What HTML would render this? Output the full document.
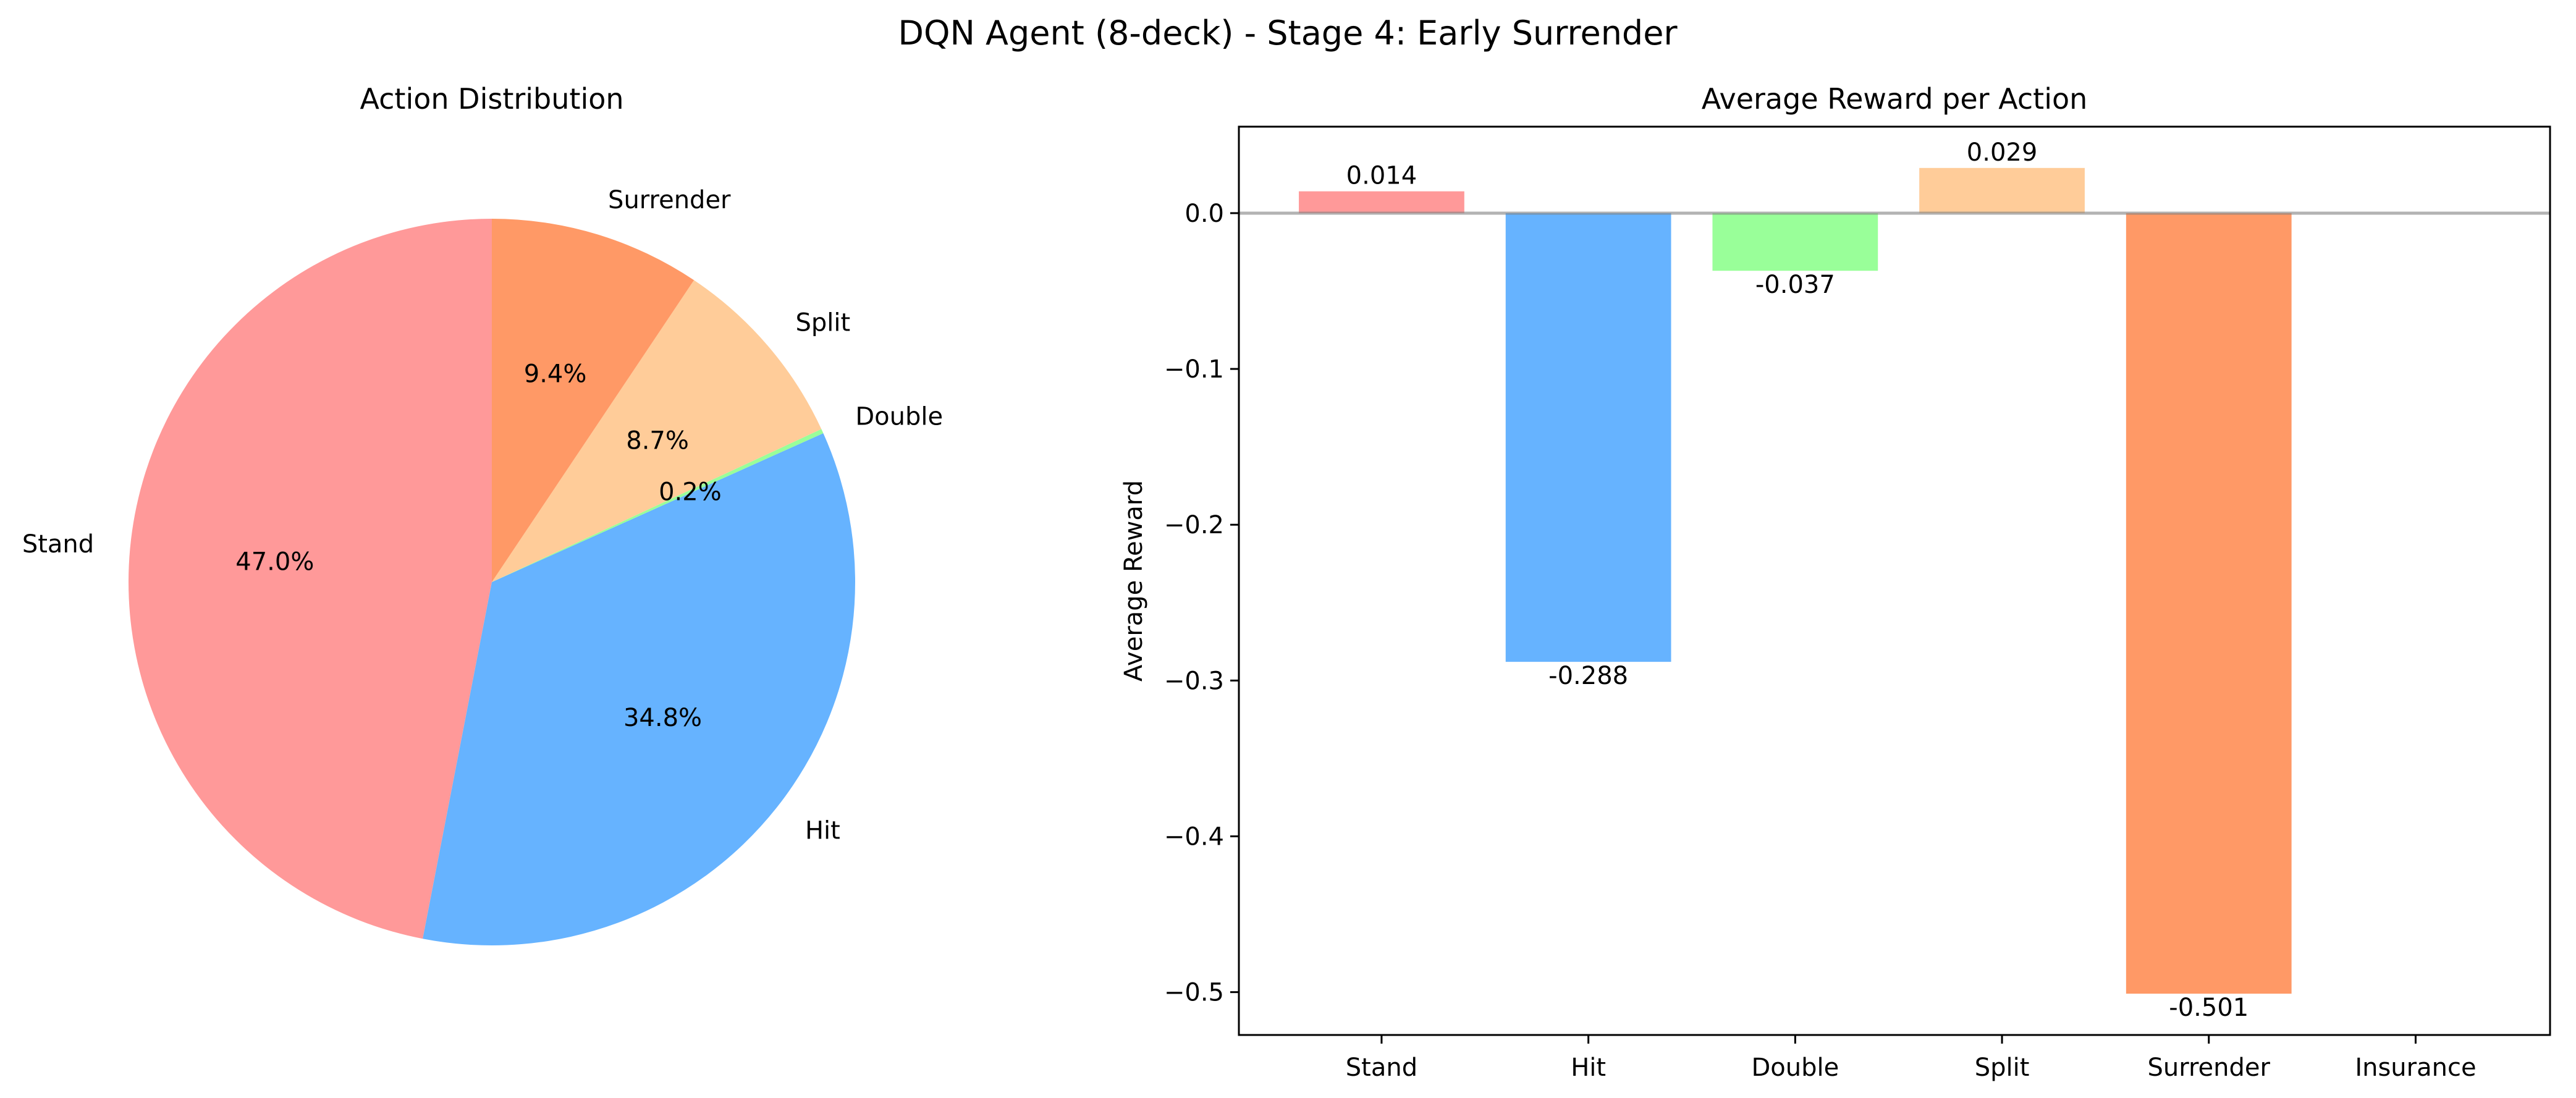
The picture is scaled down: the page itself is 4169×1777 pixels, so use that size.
<!DOCTYPE html>
<html><head><meta charset="utf-8"><style>
html,body{margin:0;padding:0;background:#fff}
svg{display:block;font-family:"DejaVu Sans","Liberation Sans",sans-serif}
</style></head><body>
<svg id="fig" width="4169" height="1777" viewBox="0 0 4169 1777" xmlns="http://www.w3.org/2000/svg">
<text x="2084" y="72" font-size="54" text-anchor="middle">DQN Agent (8-deck) - Stage 4: Early Surrender</text>
<text x="796" y="176" font-size="46" text-anchor="middle">Action Distribution</text>
<text x="3066" y="176" font-size="46" text-anchor="middle">Average Reward per Action</text>
<g id="pie"></g>
<g id="bars"></g>
</svg>
<script>
const pieLabels = ["Stand","Hit","Double","Split","Surrender"];
const pieValues = [47.0,34.8,0.2,8.7,9.4];
const pieColors = ["#ff9999","#66b3ff","#99ff99","#ffcc99","#ff9966"];
const barCategories = ["Stand","Hit","Double","Split","Surrender","Insurance"];
const barValues = [0.014,-0.288,-0.037,0.029,-0.501,0];
const barColors = ["#ff9999","#66b3ff","#99ff99","#ffcc99","#ff9966","#c2c2f0"];
const yTicks = [0.0,-0.1,-0.2,-0.3,-0.4,-0.5];

const NS="http://www.w3.org/2000/svg";
function mk(tag,attrs,parent){const e=document.createElementNS(NS,tag);for(const k in attrs)e.setAttribute(k,attrs[k]);parent.appendChild(e);return e;}

// Pie
const pie=document.getElementById('pie');
const cx=796,cy=942,R=588;
const total=pieValues.reduce((a,b)=>a+b,0);
let ang=90;
const mids=[];
pieValues.forEach((v,i)=>{
  const sweep=v/total*360;
  const a0=ang*Math.PI/180,a1=(ang+sweep)*Math.PI/180;
  const x0=cx+R*Math.cos(a0),y0=cy-R*Math.sin(a0),x1=cx+R*Math.cos(a1),y1=cy-R*Math.sin(a1);
  const large=sweep>180?1:0;
  const p=mk('path',{d:`M${cx},${cy} L${x0},${y0} A${R},${R} 0 ${large} 0 ${x1},${y1} Z`,fill:pieColors[i]},pie);
  
  
  mids.push((ang+sweep/2)*Math.PI/180);
  ang+=sweep;
});
pieValues.forEach((v,i)=>{
  const mid=mids[i];
  const lx=cx+1.1*R*Math.cos(mid),ly=cy-1.1*R*Math.sin(mid);
  const t=mk('text',{x:lx,y:ly+14,'font-size':40,'text-anchor':Math.cos(mid)<0?'end':'start'},pie);
  t.textContent=pieLabels[i];
  
  
  const px=cx+0.6*R*Math.cos(mid),py=cy-0.6*R*Math.sin(mid);
  const pt=mk('text',{x:px,y:py+14,'font-size':40,'text-anchor':'middle'},pie);
  pt.textContent=v.toFixed(1)+'%';
  
  
});

// Bars
const bars=document.getElementById('bars');
const L=2005,Rr=4127,T=205,B=1675;
const vmin=Math.min(...barValues),vmax=Math.max(...barValues);
const yr=vmax-vmin,y0v=vmin-0.05*yr,y1v=vmax+0.05*yr;
const Y=v=>T+(y1v-v)/(y1v-y0v)*(B-T);
const n=barCategories.length,xl=-0.69,xh=n-1+0.65;
const X=i=>L+(i-xl)/(xh-xl)*(Rr-L);
const bw=0.8*(Rr-L)/(xh-xl);
barValues.forEach((v,i)=>{
  const top=Math.min(Y(v),Y(0)),h=Math.abs(Y(v)-Y(0));
  const r=mk('rect',{x:X(i)-bw/2,y:top,width:bw,height:h,fill:barColors[i]},bars);
  
  
  if(v!==0){
    const t=mk('text',{x:X(i),y:v>0?Y(v)-12:Y(v)+36,'font-size':40,'text-anchor':'middle'},bars);
    t.textContent=v.toFixed(3);
    
    
  }
  const tk=mk('line',{x1:X(i),x2:X(i),y1:B,y2:B+14,stroke:'#000','stroke-width':3},bars);
  
  
  const tl=mk('text',{x:X(i),y:B+66,'font-size':40,'text-anchor':'middle'},bars);
  tl.textContent=barCategories[i];
  
  
});
const zl=mk('line',{x1:L,x2:Rr,y1:Y(0),y2:Y(0),stroke:'#808080','stroke-opacity':0.6,'stroke-width':5},bars);


yTicks.forEach(v=>{
  const tk=mk('line',{x1:L-14,x2:L,y1:Y(v),y2:Y(v),stroke:'#000','stroke-width':3},bars);
  
  
  const tl=mk('text',{x:L-24,y:Y(v)+14,'font-size':40,'text-anchor':'end'},bars);
  tl.textContent=(v<0?'\u2212':'')+Math.abs(v).toFixed(1);
  
  
});
const fr=mk('rect',{x:L,y:T,width:Rr-L,height:B-T,fill:'none',stroke:'#000','stroke-width':3},bars);


const yl=mk('text',{x:0,y:0,'font-size':40,'text-anchor':'middle',transform:`translate(1848,${(T+B)/2}) rotate(-90)`},bars);
yl.textContent='Average Reward';


</script>
</body></html>
